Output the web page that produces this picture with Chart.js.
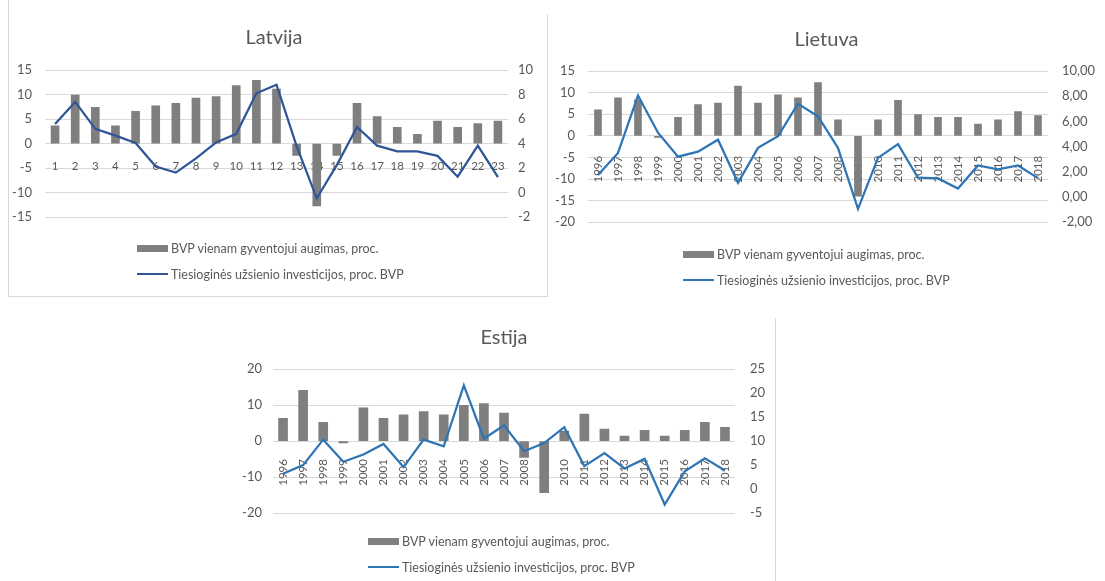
<!DOCTYPE html>
<html>
<head>
<meta charset="utf-8">
<script src="https://cdn.jsdelivr.net/npm/chart.js@4.4.1/dist/chart.umd.min.js"></script>
<style>
  html, body { margin: 0; padding: 0; background: #fff; }
  body { width: 1105px; height: 581px; position: relative; overflow: hidden; font-family: Lato, 'Open Sans', sans-serif; }
  canvas { position: absolute; display: block; }
  .frame { position: absolute; background: #d9d9d9; }
  .legend { position: absolute; font-size: 12.5px; color: #595959; }
  .legend .row { height: 26px; display: flex; align-items: center; white-space: nowrap; }
  .legend .sw { display: inline-block; width: 31px; margin-right: 3px; }
</style>
</head>
<body>
<div class="frame" style="left:8px;top:0;width:1px;height:296px"></div>
<div class="frame" style="left:8px;top:296px;width:540px;height:1px"></div>
<div class="frame" style="left:547px;top:14px;width:1px;height:282px"></div>
<div class="frame" style="left:775px;top:318px;width:1px;height:263px"></div>

<canvas id="latvija" width="548" height="238" style="left:0;top:0"></canvas>
<canvas id="lietuva" width="557" height="244" style="left:548px;top:0"></canvas>
<canvas id="estija" width="542" height="236" style="left:233px;top:300px"></canvas>

<div class="legend" id="lg-latvija" style="left:137px;top:235px"></div>
<div class="legend" id="lg-lietuva" style="left:683px;top:241px"></div>
<div class="legend" id="lg-estija" style="left:368px;top:528px"></div>

<script>
// serijų pavadinimai
var barLabel = 'BVP vienam gyventojui augimas, proc.';
var lineLabel = 'Tiesioginės užsienio investicijos, proc. BVP';

// kategorijos
var latPeriods = ['1','2','3','4','5','6','7','8','9','10','11','12','13','14','15','16','17','18','19','20','21','22','23'];
var years = ['1996','1997','1998','1999','2000','2001','2002','2003','2004','2005','2006','2007','2008','2009','2010','2011','2012','2013','2014','2015','2016','2017','2018'];

// Latvija
var latBvp = [3.6, 9.9, 7.4, 3.6, 6.6, 7.7, 8.2, 9.3, 9.6, 11.8, 12.9, 11.1, -2.4, -12.7, -2.4, 8.2, 5.5, 3.3, 1.9, 4.6, 3.3, 4.1, 4.6];
var latTui = [5.6, 7.4, 5.2, 4.65, 4.05, 2.13, 1.64, 2.8, 4.1, 4.8, 8.1, 8.8, 3.8, -0.46, 2.27, 5.35, 3.83, 3.36, 3.36, 3.0, 1.3, 3.83, 1.26];

// Lietuva
var ltBvp = [6.0, 8.8, 8.3, -0.4, 4.3, 7.2, 7.6, 11.5, 7.6, 9.5, 8.8, 12.3, 3.7, -14.0, 3.7, 8.2, 4.9, 4.3, 4.3, 2.7, 3.7, 5.6, 4.7];
var ltTui = [1.75, 3.5, 8.05, 5.1, 3.2, 3.6, 4.55, 1.13, 3.9, 4.83, 7.4, 6.4, 3.9, -0.94, 3.1, 4.2, 1.53, 1.47, 0.67, 2.5, 2.2, 2.5, 1.5];

// Estija
var eeBvp = [6.3, 14.1, 5.2, -0.5, 9.2, 6.3, 7.3, 8.2, 7.3, 9.9, 10.4, 7.8, -4.5, -14.3, 2.8, 7.5, 3.3, 1.4, 3.0, 1.4, 3.0, 5.2, 3.8];
var eeTui = [3.2, 5.0, 10.3, 5.7, 7.2, 9.4, 4.6, 10.3, 8.9, 21.6, 10.5, 13.3, 7.9, 9.6, 12.9, 4.8, 7.5, 4.3, 6.3, -3.2, 3.7, 6.4, 3.9];

// ašių ribos: [min, max, žingsnis]
var latLeftAxis = [-15, 15, 5], latRightAxis = [-2, 10, 2];
var ltLeftAxis = [-20, 15, 5], ltRightAxis = [-2, 10, 2];
var eeLeftAxis = [-20, 20, 10], eeRightAxis = [-5, 25, 5];

var textColor = '#595959';
var gridColor = '#d9d9d9';
var barColor = '#7f7f7f';

Chart.defaults.font.family = "Lato, 'Open Sans', sans-serif";
Chart.defaults.color = textColor;

function buildChart(id, o) {
    var chart = new Chart(document.getElementById(id), {
        type: 'bar',
        data: {
            labels: o.labels,
            datasets: [{
                type: 'bar',
                label: barLabel,
                data: o.bvp,
                backgroundColor: barColor,
                barThickness: o.barWidth,
                yAxisID: 'y',
                order: 1
            }, {
                type: 'line',
                label: lineLabel,
                data: o.tui,
                borderColor: o.lineColor,
                backgroundColor: o.lineColor,
                borderWidth: 2.25,
                pointRadius: 0,
                tension: 0,
                yAxisID: 'y1',
                order: 0
            }]
        },
        options: {
            responsive: false,
            animation: false,
            layout: { padding: { bottom: o.padBottom } },
            plugins: {
                legend: { display: false },
                tooltip: { enabled: false },
                title: {
                    display: true,
                    text: o.title,
                    color: textColor,
                    font: { size: 20, weight: 'normal' },
                    padding: { top: o.titleTop, bottom: o.titleBottom }
                }
            },
            scales: {
                x: {
                    position: { y: 0 },
                    grid: { display: false },
                    border: { display: false },
                    ticks: {
                        font: { size: 11.5 },
                        padding: o.xPad,
                        minRotation: o.rotation,
                        maxRotation: o.rotation,
                        autoSkip: false
                    }
                },
                y: {
                    position: 'left',
                    min: o.left[0], max: o.left[1],
                    ticks: { stepSize: o.left[2], padding: o.leftPad, font: { size: 13 } },
                    grid: { color: gridColor, drawTicks: false },
                    border: { display: false },
                    afterFit: function (s) { s.width = o.leftW; }
                },
                y1: {
                    position: 'right',
                    min: o.right[0], max: o.right[1],
                    ticks: { stepSize: o.right[2], padding: o.rightPad, font: { size: 13 }, callback: o.fmt },
                    grid: { display: false, drawTicks: false },
                    border: { display: false },
                    afterFit: function (s) { s.width = o.rightW; }
                }
            }
        }
    });
    return chart;
}

// legenda po diagrama
function buildLegend(id, chart) {
    var box = document.getElementById(id);
    chart.data.datasets.forEach(function (ds) {
        var row = document.createElement('div');
        row.className = 'row';
        var sw = document.createElement('span');
        sw.className = 'sw';
        if (ds.type === 'bar') {
            sw.style.height = '7px';
            sw.style.background = ds.backgroundColor;
        } else {
            sw.style.height = '2px';
            sw.style.background = ds.borderColor;
        }
        var txt = document.createElement('span');
        txt.textContent = ds.label;
        row.appendChild(sw);
        row.appendChild(txt);
        box.appendChild(row);
    });
}

var plain = function (v) { return String(v); };
var comma = function (v) { return v.toFixed(2).replace('.', ','); };

var lv = buildChart('latvija', {
    title: 'Latvija', labels: latPeriods, bvp: latBvp, tui: latTui,
    lineColor: '#2f5597', barWidth: 8,
    left: latLeftAxis, right: latRightAxis, fmt: plain,
    leftW: 45, rightW: 40, leftPad: 13, rightPad: 10,
    titleTop: 26, titleBottom: 20, padBottom: 13,
    xPad: 8, rotation: 0
});

var lt = buildChart('lietuva', {
    title: 'Lietuva', labels: years, bvp: ltBvp, tui: ltTui,
    lineColor: '#2e75b6', barWidth: 7,
    left: ltLeftAxis, right: ltRightAxis, fmt: comma,
    leftW: 40, rightW: 57, leftPad: 13, rightPad: 14,
    titleTop: 28, titleBottom: 19, padBottom: 12,
    xPad: 12, rotation: 90
});

var ee = buildChart('estija', {
    title: 'Estija', labels: years, bvp: eeBvp, tui: eeTui,
    lineColor: '#2e75b6', barWidth: 9,
    left: eeLeftAxis, right: eeRightAxis, fmt: plain,
    leftW: 40, rightW: 40, leftPad: 11, rightPad: 15,
    titleTop: 26, titleBottom: 19, padBottom: 13,
    xPad: 10, rotation: 90
});

buildLegend('lg-latvija', lv);
buildLegend('lg-lietuva', lt);
buildLegend('lg-estija', ee);
</script>
</body>
</html>
